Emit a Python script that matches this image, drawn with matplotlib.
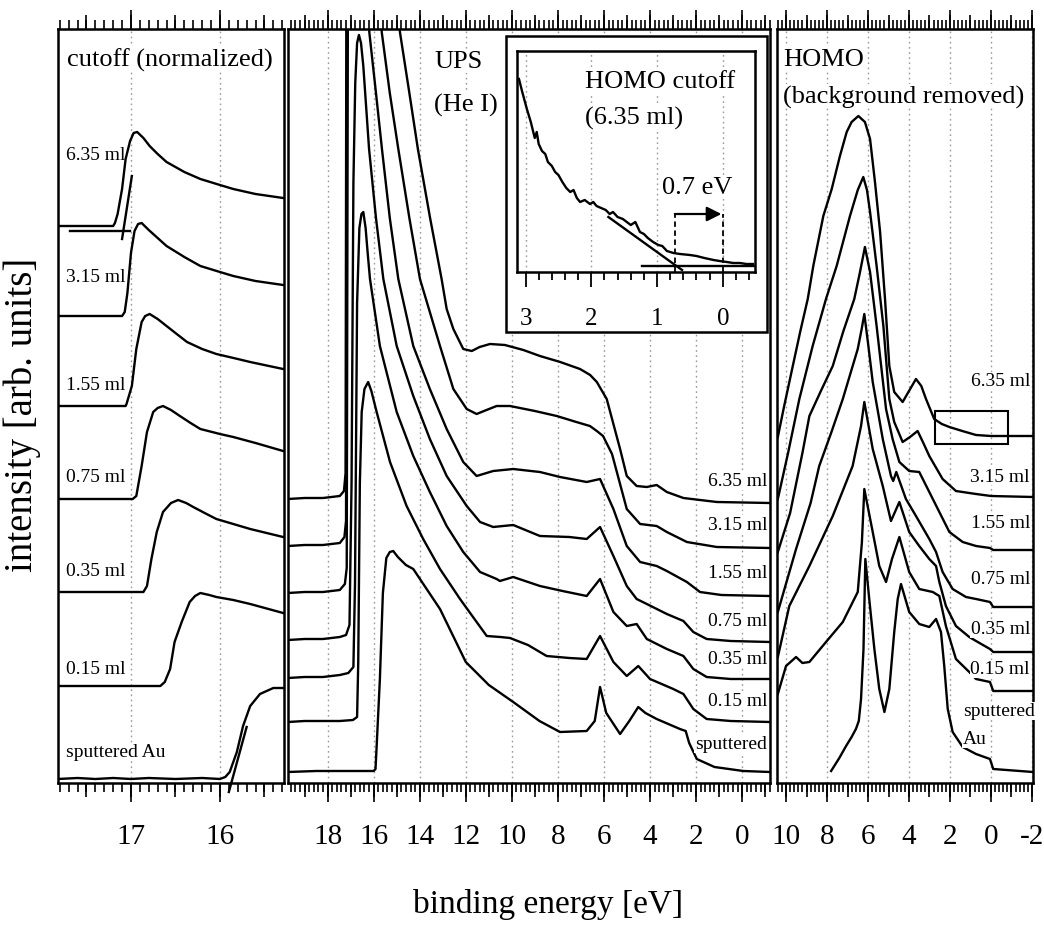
import matplotlib
matplotlib.use('Agg')
import matplotlib.pyplot as plt
from matplotlib.ticker import MultipleLocator
from matplotlib.patches import Rectangle

plt.rcParams['font.family'] = ['Liberation Serif', 'DejaVu Serif']
plt.rcParams['axes.linewidth'] = 1.8
plt.rcParams['axes.unicode_minus'] = False

# ---------------- data: left panel (secondary-electron cutoff, normalized) ----------------
cut_labels = ['6.35 ml', '3.15 ml', '1.55 ml', '0.75 ml', '0.35 ml', '0.15 ml', 'sputtered Au']
cut_635 = [(17.82, 557), (17.50, 557), (17.20, 557), (17.18, 560), (17.15, 569), (17.10, 594), (17.06, 624),
           (17.01, 642), (16.97, 650), (16.93, 651), (16.86, 645), (16.79, 637), (16.70, 629), (16.60, 621),
           (16.40, 611), (16.22, 604), (16.00, 598), (15.85, 594), (15.60, 589), (15.29, 585)]
cut_315 = [(17.82, 467), (17.40, 467), (17.10, 467), (17.07, 471), (17.04, 490), (17.00, 530), (16.96, 552),
           (16.92, 559), (16.88, 560), (16.80, 553), (16.70, 545), (16.60, 537), (16.40, 526), (16.22, 517),
           (16.00, 511), (15.85, 507), (15.60, 502), (15.29, 498)]
cut_155 = [(17.82, 377), (17.40, 377), (17.06, 377), (17.05, 379), (16.99, 397), (16.94, 434), (16.88, 461),
           (16.84, 467), (16.79, 469), (16.70, 464), (16.60, 457), (16.50, 450), (16.37, 441), (16.20, 434),
           (16.04, 429), (15.80, 424), (15.66, 421), (15.29, 414)]
cut_075 = [(17.82, 284), (17.40, 284), (16.98, 284), (16.94, 287), (16.88, 317), (16.82, 351), (16.75, 371),
           (16.70, 375), (16.64, 377), (16.55, 373), (16.45, 367), (16.33, 360), (16.22, 354), (16.00, 349),
           (15.85, 346), (15.60, 340), (15.29, 332)]
cut_035 = [(17.82, 191), (17.40, 191), (16.86, 191), (16.82, 197), (16.77, 224), (16.71, 251), (16.64, 271),
           (16.55, 280), (16.47, 283), (16.38, 280), (16.30, 276), (16.15, 269), (16.04, 264), (15.85, 259),
           (15.66, 254), (15.29, 246)]
cut_015 = [(17.82, 97), (17.40, 97), (16.67, 97), (16.62, 101), (16.56, 114), (16.51, 141), (16.43, 161),
           (16.34, 181), (16.28, 187), (16.22, 190), (16.12, 188), (16.04, 186), (15.85, 183), (15.66, 179),
           (15.29, 170)]
cut_au = [(17.82, 4), (17.60, 5), (17.40, 4), (17.20, 5), (17.00, 4), (16.80, 5), (16.50, 4), (16.20, 5),
          (16.00, 4), (15.94, 6), (15.89, 11), (15.81, 31), (15.74, 57), (15.66, 77), (15.55, 89), (15.40, 95),
          (15.29, 95)]
cut_label_y = [629, 506, 399, 307, 212, 114, 31]
cut_635_tangent = [(17.10, 544), (16.99, 607)]
cut_635_base = [(17.69, 552), (17.01, 552)]
cut_au_tangent = [(15.90, -9), (15.70, 56)]

# ---------------- data: middle panel (UPS He I) ----------------
ups_labels = ['6.35 ml', '3.15 ml', '1.55 ml', '0.75 ml', '0.35 ml', '0.15 ml', 'sputtered']
ups_635 = [(19.72, 284), (19.0, 285), (18.2, 285), (17.47, 287), (17.29, 292), (17.22, 310), (17.17, 1000),
           (15.30, 1000), (14.86, 751), (14.45, 690), (14.08, 634), (13.55, 565), (13.05, 504), (12.83, 474),
           (12.54, 454), (12.11, 434), (11.74, 432), (11.40, 436), (10.95, 439), (10.30, 438), (9.50, 433),
           (8.78, 427), (7.90, 421), (7.04, 414), (6.60, 408), (6.31, 401), (5.88, 384), (5.30, 334),
           (5.01, 307), (4.58, 297), (4.14, 296), (3.71, 298), (3.27, 291), (2.55, 285), (1.10, 281),
           (-1.21, 280)]
ups_315 = [(19.72, 237), (19.0, 238), (18.2, 238), (17.47, 240), (17.27, 246), (17.20, 262), (17.14, 1000),
           (16.00, 1000), (15.65, 751), (15.30, 690), (14.93, 634), (14.45, 565), (13.99, 504), (13.12, 437),
           (12.54, 394), (11.96, 374), (11.53, 369), (11.10, 373), (10.66, 377), (10.08, 377), (9.00, 372),
           (8.05, 367), (7.20, 361), (6.61, 357), (6.31, 352), (6.04, 347), (5.65, 329), (5.01, 274),
           (4.43, 259), (3.71, 257), (3.27, 251), (2.40, 241), (1.10, 236), (-1.21, 235)]
ups_155 = [(19.72, 190), (19.0, 191), (18.2, 191), (17.47, 193), (17.25, 199), (17.17, 215), (17.10, 1000),
           (16.50, 1000), (16.19, 751), (15.90, 690), (15.64, 634), (15.30, 565), (14.93, 504), (14.28, 437),
           (13.56, 394), (12.83, 354), (12.11, 321), (11.53, 307), (10.81, 312), (9.94, 314), (8.78, 311),
           (7.91, 306), (6.75, 301), (6.17, 304), (5.59, 274), (5.01, 237), (4.43, 221), (3.71, 217),
           (3.27, 212), (2.40, 201), (1.83, 191), (0.90, 188), (-1.21, 187)]
ups_075 = [(19.72, 143), (19.0, 144), (18.2, 144), (17.47, 146), (17.20, 148), (17.05, 158), (16.96, 300),
           (16.88, 600), (16.80, 700), (16.72, 740), (16.64, 748), (16.55, 740), (16.45, 717), (16.20, 634),
           (15.90, 565), (15.58, 504), (15.00, 437), (14.28, 387), (13.56, 344), (12.83, 307), (11.96, 277),
           (11.38, 261), (10.81, 256), (9.94, 258), (8.78, 247), (7.50, 246), (6.75, 244), (6.17, 256),
           (5.59, 227), (5.01, 197), (4.58, 184), (4.14, 179), (3.27, 169), (2.55, 162), (2.12, 151),
           (1.54, 144), (0.50, 142), (-1.21, 141)]
ups_035 = [(19.72, 105), (19.0, 106), (18.2, 106), (17.47, 108), (17.10, 110), (16.88, 116), (16.81, 200),
           (16.72, 480), (16.62, 555), (16.53, 569), (16.45, 571), (16.35, 555), (16.26, 530), (16.16, 504),
           (15.73, 437), (15.00, 371), (14.28, 327), (13.56, 291), (12.83, 257), (12.11, 231), (11.38, 211),
           (10.66, 204), (10.52, 202), (9.94, 206), (8.78, 197), (7.80, 192), (6.75, 187), (6.17, 204),
           (5.59, 171), (5.01, 157), (4.58, 159), (4.14, 144), (3.27, 134), (2.55, 127), (2.12, 114),
           (1.54, 106), (0.50, 104), (-1.21, 104)]
ups_015 = [(19.72, 61), (19.0, 62), (18.2, 62), (17.47, 62), (16.90, 63), (16.72, 66), (16.67, 120),
           (16.60, 300), (16.52, 371), (16.40, 394), (16.24, 401), (16.10, 392), (15.87, 371), (15.29, 321),
           (14.57, 277), (13.85, 244), (13.12, 214), (12.25, 184), (11.09, 147), (10.50, 146), (10.08, 145),
           (9.30, 138), (8.49, 127), (7.50, 125), (6.75, 124), (6.17, 147), (5.59, 121), (5.01, 107),
           (4.51, 117), (4.00, 104), (2.99, 94), (2.55, 89), (2.12, 74), (1.54, 64), (0.50, 62), (-1.21, 61)]
ups_au = [(19.72, 11), (18.5, 12), (17.0, 12), (16.0, 12), (15.92, 14), (15.87, 37), (15.73, 104),
          (15.60, 190), (15.45, 225), (15.30, 231), (15.15, 232), (14.95, 226), (14.60, 218), (14.28, 214),
          (13.70, 194), (13.12, 174), (12.00, 121), (11.00, 98), (9.94, 81), (8.80, 62), (7.91, 51),
          (6.75, 52), (6.40, 62), (6.17, 96), (5.90, 70), (5.30, 49), (4.90, 62), (4.51, 76), (4.20, 70),
          (3.71, 64), (2.70, 54), (2.45, 52), (2.30, 40), (1.97, 24), (1.20, 16), (-0.05, 12), (-1.21, 11)]
ups_label_y = [302, 259, 211, 163, 124, 82, 39]

# ---------------- data: right panel (HOMO, background removed) ----------------
homo_labels = ['6.35 ml', '3.15 ml', '1.55 ml', '0.75 ml', '0.35 ml', '0.15 ml']
homo_635 = [(10.40, 346), (10.10, 376), (9.67, 417), (9.30, 452), (8.94, 484), (8.67, 517), (8.18, 567),
            (7.77, 594), (7.37, 627), (7.04, 651), (6.80, 661), (6.47, 667), (6.15, 661), (5.90, 644),
            (5.66, 601), (5.41, 551), (5.17, 484), (4.96, 417), (4.72, 391), (4.31, 381), (4.00, 392),
            (3.66, 404), (3.40, 397), (3.17, 384), (2.77, 364), (2.40, 359), (2.03, 356), (1.40, 352),
            (0.73, 348), (0.00, 347), (-2.05, 347)]
homo_315 = [(10.40, 284), (9.90, 330), (9.35, 384), (8.70, 437), (8.05, 484), (7.53, 517), (6.88, 567),
            (6.50, 593), (6.23, 606), (6.05, 593), (5.90, 571), (5.58, 517), (5.25, 457), (4.96, 384),
            (4.72, 361), (4.31, 341), (3.95, 346), (3.58, 352), (3.30, 340), (3.01, 327), (2.36, 304),
            (1.71, 292), (0.73, 289), (0.00, 287), (-2.05, 286)]
homo_155 = [(10.40, 231), (9.80, 270), (9.20, 330), (8.86, 367), (8.30, 392), (7.72, 417), (7.20, 452),
            (6.67, 484), (6.40, 510), (6.15, 536), (5.90, 511), (5.58, 457), (5.12, 374), (4.80, 344),
            (4.47, 321), (3.99, 312), (3.50, 311), (3.01, 291), (2.52, 271), (2.03, 251), (1.38, 241),
            (0.73, 237), (0.05, 235), (-0.11, 233), (-2.05, 233)]
homo_075 = [(10.40, 171), (9.51, 234), (8.80, 280), (8.38, 317), (7.80, 350), (7.23, 384), (6.50, 434),
            (6.30, 455), (6.18, 469), (6.00, 440), (5.77, 401), (5.28, 344), (4.88, 307), (4.77, 302),
            (4.62, 311), (4.15, 284), (3.66, 267), (3.01, 244), (2.68, 231), (2.36, 211), (1.87, 194),
            (1.22, 186), (0.73, 184), (0.05, 181), (-0.11, 176), (-2.05, 176)]
homo_035 = [(10.40, 126), (9.84, 177), (8.86, 217), (7.72, 267), (6.75, 317), (6.34, 357), (6.18, 381),
            (5.77, 334), (5.28, 297), (4.88, 262), (4.47, 281), (3.99, 251), (3.50, 237), (3.01, 224),
            (2.68, 217), (2.52, 201), (2.20, 177), (1.71, 157), (1.06, 146), (0.73, 142), (0.05, 134),
            (-0.11, 131), (-2.05, 131)]
homo_015 = [(10.40, 89), (10.00, 117), (9.51, 126), (9.20, 120), (8.86, 121), (8.05, 141), (7.23, 161),
            (6.50, 191), (6.30, 240), (6.18, 294), (5.77, 251), (5.45, 217), (5.12, 201), (4.83, 224),
            (4.47, 246), (3.99, 211), (3.50, 194), (2.84, 191), (2.52, 187), (2.20, 157), (1.71, 124),
            (1.06, 111), (0.73, 104), (0.05, 101), (-0.11, 92), (-2.05, 92)]
homo_au = [(7.80, 12), (7.40, 25), (7.07, 37), (6.80, 46), (6.59, 54), (6.45, 62), (6.34, 84), (6.22, 134),
           (6.13, 224), (5.94, 184), (5.69, 134), (5.45, 94), (5.20, 71), (4.96, 94), (4.72, 151),
           (4.55, 184), (4.39, 199), (3.99, 171), (3.50, 159), (3.01, 156), (2.68, 164), (2.44, 151),
           (2.28, 117), (2.11, 74), (1.87, 51), (1.38, 36), (0.73, 29), (0.05, 24), (-0.11, 14), (-2.05, 11)]
homo_label_y = [402, 307, 261, 204, 154, 114]
homo_box = (2.73, -0.84, 339, 372)   # e_left, e_right, I_bottom, I_top

# ---------------- data: inset (HOMO cutoff, 6.35 ml) ----------------
inset_curve = [(3.10, 193), (3.05, 180), (2.98, 163), (2.92, 150), (2.86, 134), (2.83, 140), (2.80, 128),
               (2.75, 121), (2.70, 118), (2.66, 110), (2.60, 106), (2.55, 100), (2.50, 97), (2.44, 90),
               (2.38, 84), (2.32, 80), (2.27, 82), (2.22, 74), (2.17, 70), (2.10, 72), (2.02, 68),
               (1.97, 70), (1.92, 66), (1.85, 64), (1.78, 62), (1.72, 58), (1.67, 60), (1.60, 55),
               (1.52, 53), (1.46, 50), (1.40, 47), (1.33, 50), (1.26, 40), (1.20, 38), (1.14, 34),
               (1.06, 30), (0.98, 27), (0.92, 26), (0.85, 21), (0.75, 19), (0.65, 18), (0.50, 17),
               (0.40, 16), (0.28, 14), (0.14, 12), (0.05, 11), (-0.06, 10), (-0.16, 9), (-0.26, 9),
               (-0.36, 8), (-0.46, 8)]
inset_tangent = [(1.74, 55), (0.62, 2)]
inset_base = [(1.23, 6), (-0.49, 6)]
homo_onset = 0.73
fermi_level = 0.0
arrow_level = 58

# ---------------- figure ----------------
W, H = 1044, 928
fig = plt.figure(figsize=(W / 100, H / 100), dpi=100)


def fpos(x0, y0, x1, y1):
    return [x0 / W, 1 - y1 / H, (x1 - x0) / W, (y1 - y0) / H]


ax_l = fig.add_axes(fpos(58, 30, 284, 784))
ax_m = fig.add_axes(fpos(288, 30, 770, 784))
ax_r = fig.add_axes(fpos(777, 30, 1033, 784))

LW = 1.7
TICKFS = 21
LABFS = 14
TITFS = 19
bb = dict(facecolor='white', edgecolor='none', pad=0.6)


def style(ax, xlim, major, medium, minor):
    # medium-length ticks between the labelled ones (twin axis created first,
    # because twiny() switches the host's top ticks off)
    tw = ax.twiny()
    tw.set_xlim(*xlim)
    tw.xaxis.set_major_locator(MultipleLocator(medium))
    tw.xaxis.set_minor_locator(MultipleLocator(minor))
    tw.tick_params(axis='x', which='major', direction='out', top=True, bottom=True, width=1.2,
                   length=10, labeltop=False, labelbottom=False)
    tw.tick_params(axis='x', which='minor', length=0, top=True, bottom=True)
    tw.set_yticks([])
    for s in tw.spines.values():
        s.set_visible(False)

    ax.set_xlim(*xlim)
    ax.set_ylim(0, 754)
    ax.xaxis.set_major_locator(MultipleLocator(major))
    ax.xaxis.set_minor_locator(MultipleLocator(minor))
    ax.tick_params(axis='x', which='both', direction='out', top=True, bottom=True, width=1.2,
                   labeltop=False, labelbottom=True, labelsize=TICKFS, pad=15)
    ax.tick_params(axis='x', which='major', length=13.5)
    ax.tick_params(axis='x', which='minor', length=6.5)
    ax.set_yticks([])
    ax.grid(True, axis='x', which='major', linestyle=(0, (1.2, 2.5)), color='#9a9a9a', linewidth=1.0)
    ax.set_axisbelow(True)


def draw(ax, pts, **kw):
    ax.plot([p[0] for p in pts], [p[1] for p in pts], color='black', lw=LW, solid_joinstyle='round', **kw)


# left panel
style(ax_l, (17.82, 15.28), 1, 0.5, 0.1)
for c in [cut_635, cut_315, cut_155, cut_075, cut_035, cut_015, cut_au]:
    draw(ax_l, c)
draw(ax_l, cut_635_tangent)
draw(ax_l, cut_635_base)
draw(ax_l, cut_au_tangent, clip_on=False)
for lab, y in zip(cut_labels, cut_label_y):
    ax_l.text(17.73, y, lab, fontsize=LABFS, ha='left', va='center', bbox=bb, zorder=1.5)
ax_l.text(16.56, 724, 'cutoff (normalized)', fontsize=TITFS, ha='center', va='center', bbox=bb)

# middle panel
style(ax_m, (19.72, -1.21), 2, 1, 0.2)
for c in [ups_635, ups_315, ups_155, ups_075, ups_035, ups_015, ups_au]:
    draw(ax_m, c)
for lab, y in zip(ups_labels, ups_label_y):
    ax_m.text(-1.08, y, lab, fontsize=LABFS, ha='right', va='center', bbox=bb)
ax_m.text(13.38, 722, 'UPS', fontsize=TITFS, ha='left', va='center', bbox=bb)
ax_m.text(13.38, 679, '(He I)', fontsize=TITFS, ha='left', va='center', bbox=bb)

# right panel
style(ax_r, (10.44, -2.05), 2, 1, 0.2)
for c in [homo_635, homo_315, homo_155, homo_075, homo_035, homo_015, homo_au]:
    draw(ax_r, c)
for lab, y in zip(homo_labels, homo_label_y):
    ax_r.text(-1.90, y, lab, fontsize=LABFS, ha='right', va='center', bbox=bb)
ax_r.text(1.38, 72, 'sputtered', fontsize=LABFS, ha='left', va='center', bbox=bb)
ax_r.text(1.38, 44, 'Au', fontsize=LABFS, ha='left', va='center', bbox=bb)
ax_r.text(10.13, 724, 'HOMO', fontsize=TITFS, ha='left', va='center', bbox=bb)
ax_r.text(10.13, 687, '(background removed)', fontsize=TITFS, ha='left', va='center', bbox=bb)
e0, e1, i0, i1 = homo_box
ax_r.add_patch(Rectangle((e1, i0), e0 - e1, i1 - i0, fill=False, edgecolor='black', lw=1.5, zorder=4))

# inset box + inset axes
box = Rectangle((506 / W, 1 - 333 / H), (767 - 506) / W, (333 - 37) / H, transform=fig.transFigure,
                facecolor='white', edgecolor='black', lw=1.8, zorder=2)
fig.add_artist(box)
ax_i = fig.add_axes(fpos(517, 52, 755, 273))
ax_i.set_zorder(3)
ax_i.set_xlim(3.13, -0.49)
ax_i.set_ylim(0, 221)
ax_i.xaxis.set_major_locator(MultipleLocator(1))
ax_i.xaxis.set_minor_locator(MultipleLocator(0.2))
ax_i.tick_params(axis='x', which='both', direction='out', top=False, bottom=True, width=1.3,
                 labelsize=18, pad=14)
ax_i.tick_params(axis='x', which='major', length=11)
ax_i.tick_params(axis='x', which='minor', length=6)
ax_i.set_yticks([])
ax_i.grid(True, axis='x', which='major', linestyle=(0, (1.2, 2.5)), color='#9a9a9a', linewidth=1.0)
ax_i.set_axisbelow(True)
draw(ax_i, inset_curve)
draw(ax_i, inset_tangent)
draw(ax_i, inset_base)
for e in (homo_onset, fermi_level):
    ax_i.plot([e, e], [0, arrow_level], color='black', lw=1.3, linestyle=(0, (3, 2)))
ax_i.annotate('', xy=(fermi_level + 0.02, arrow_level), xytext=(homo_onset, arrow_level),
              arrowprops=dict(arrowstyle='-|>', color='black', lw=1.6, mutation_scale=22,
                              shrinkA=0, shrinkB=0))
ax_i.text(0.93, 85, '0.7 eV', fontsize=TITFS, ha='left', va='center', bbox=bb)
ax_i.text(2.10, 191, 'HOMO cutoff', fontsize=TITFS, ha='left', va='center', bbox=bb)
ax_i.text(2.10, 155, '(6.35 ml)', fontsize=TITFS, ha='left', va='center', bbox=bb)

# axis labels
fig.text(22 / W, 1 - 415 / H, 'intensity [arb. units]', rotation=90, fontsize=28, ha='center', va='center')
fig.text(548 / W, 1 - 905 / H, 'binding energy [eV]', fontsize=24, ha='center', va='center')

fig.savefig('out.png', dpi=100)
